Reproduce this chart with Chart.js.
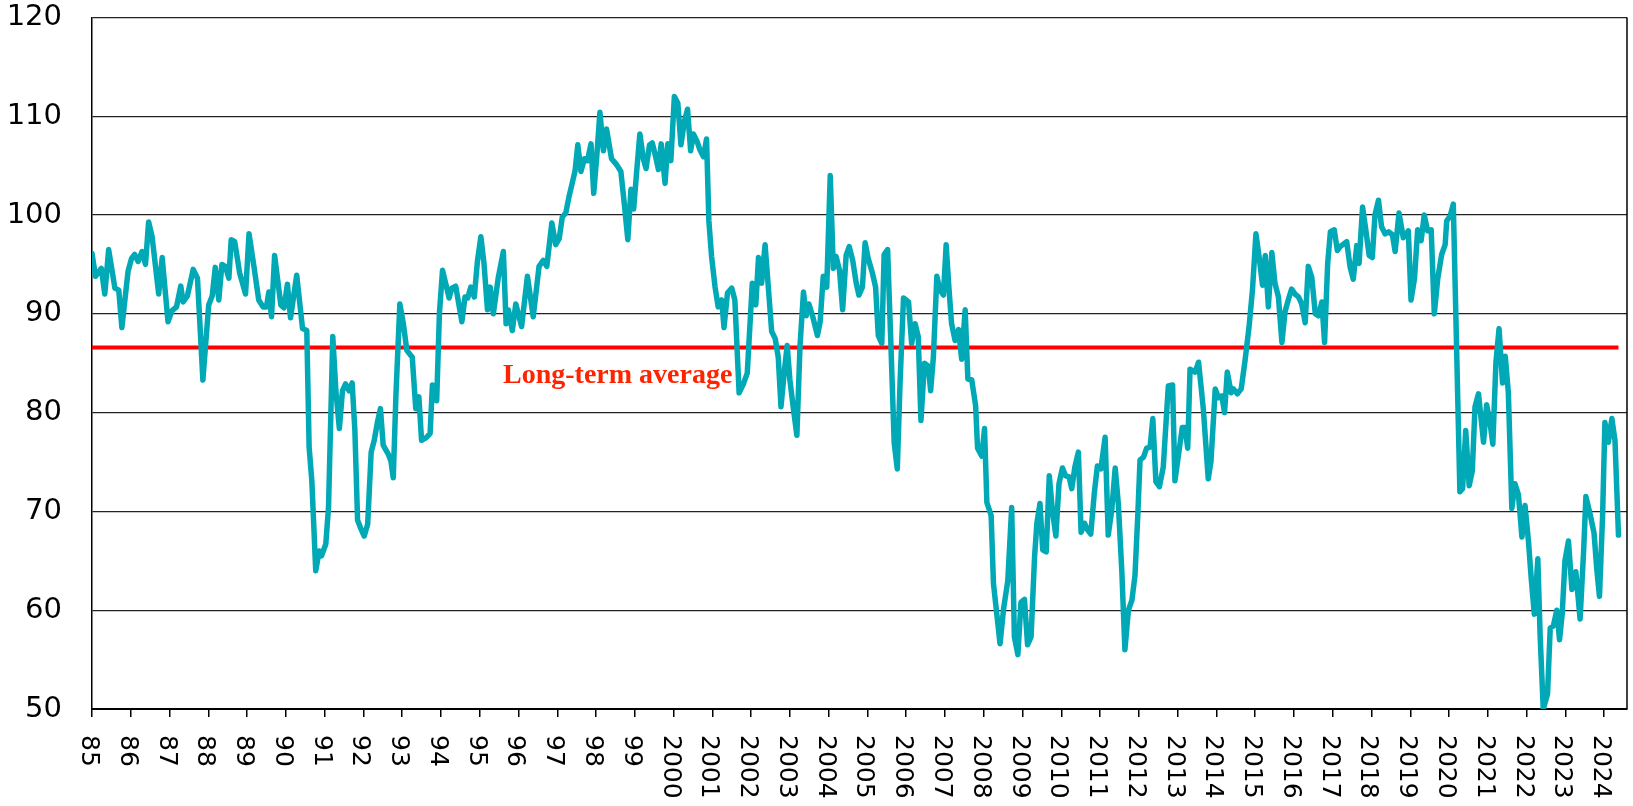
<!DOCTYPE html>
<html>
<head>
<meta charset="utf-8">
<title>Long-term average</title>
<script src="https://cdn.jsdelivr.net/npm/chart.js@4.4.1/dist/chart.umd.min.js"></script>
<style>
  html, body { margin: 0; padding: 0; background: #fff; }
  #wrap { width: 1633px; height: 806px; position: relative; }
</style>
</head>
<body>
<div id="wrap"><canvas id="chart"></canvas></div>
<script>
const dates = [
  1985.00, 1985.09, 1985.24, 1985.33, 1985.43, 1985.59, 1985.69, 1985.77, 1985.93,
  1986.02, 1986.10, 1986.19, 1986.29, 1986.38, 1986.46, 1986.55, 1986.72, 1986.81, 1986.96,
  1987.06, 1987.18, 1987.29, 1987.35, 1987.46, 1987.61, 1987.72, 1987.86,
  1988.01, 1988.10, 1988.18, 1988.27, 1988.35, 1988.44, 1988.53, 1988.59, 1988.68, 1988.81, 1988.96,
  1989.05, 1989.18, 1989.30, 1989.41, 1989.50, 1989.56, 1989.63, 1989.71, 1989.87, 1989.95,
  1990.04, 1990.12, 1990.28, 1990.43, 1990.54, 1990.60, 1990.67, 1990.77, 1990.86, 1990.92,
  1991.03, 1991.10, 1991.21, 1991.29, 1991.38, 1991.46, 1991.54, 1991.63, 1991.71, 1991.78, 1991.85, 1991.94,
  1992.02, 1992.11, 1992.20, 1992.28, 1992.37, 1992.44, 1992.51, 1992.64, 1992.71, 1992.77, 1992.84, 1992.94,
  1993.03, 1993.12, 1993.26, 1993.35, 1993.43, 1993.50, 1993.63, 1993.72, 1993.78, 1993.89, 1993.96,
  1994.04, 1994.12, 1994.21, 1994.28, 1994.38, 1994.54, 1994.62, 1994.69, 1994.77, 1994.86, 1994.94,
  1995.03, 1995.11, 1995.20, 1995.27, 1995.35, 1995.48, 1995.61, 1995.68, 1995.74, 1995.84, 1995.93,
  1996.08, 1996.23, 1996.38, 1996.53, 1996.64, 1996.73, 1996.86, 1996.96,
  1997.05, 1997.13, 1997.22, 1997.30, 1997.39, 1997.46, 1997.53, 1997.61, 1997.70, 1997.78, 1997.87, 1997.94,
  1998.02, 1998.10, 1998.19, 1998.27, 1998.40, 1998.53, 1998.64, 1998.73, 1998.82, 1998.90, 1998.97,
  1999.05, 1999.13, 1999.22, 1999.29, 1999.38, 1999.45, 1999.52, 1999.61, 1999.68, 1999.78, 1999.85, 1999.93,
  2000.02, 2000.11, 2000.19, 2000.28, 2000.36, 2000.44, 2000.51, 2000.60, 2000.68, 2000.77, 2000.85, 2000.91, 2000.98,
  2001.07, 2001.15, 2001.24, 2001.30, 2001.39, 2001.50, 2001.58, 2001.69, 2001.80, 2001.90,
  2002.03, 2002.12, 2002.19, 2002.27, 2002.36, 2002.53, 2002.62, 2002.70, 2002.77, 2002.86, 2002.93,
  2003.00, 2003.09, 2003.18, 2003.26, 2003.35, 2003.42, 2003.49, 2003.59, 2003.71, 2003.78, 2003.86, 2003.95,
  2004.04, 2004.12, 2004.19, 2004.28, 2004.36, 2004.45, 2004.53, 2004.62, 2004.71, 2004.78, 2004.87, 2004.94,
  2005.02, 2005.13, 2005.21, 2005.28, 2005.37, 2005.43, 2005.52, 2005.61, 2005.69, 2005.77, 2005.84, 2005.93,
  2006.06, 2006.14, 2006.23, 2006.31, 2006.38, 2006.47, 2006.57, 2006.63, 2006.70, 2006.79, 2006.87, 2006.96,
  2007.03, 2007.10, 2007.17, 2007.26, 2007.35, 2007.43, 2007.52, 2007.59, 2007.69, 2007.79, 2007.84, 2007.95,
  2008.02, 2008.08, 2008.19, 2008.25, 2008.42, 2008.51, 2008.62, 2008.72, 2008.79, 2008.88, 2008.96,
  2009.05, 2009.13, 2009.22, 2009.31, 2009.37, 2009.45, 2009.52, 2009.61, 2009.69, 2009.77, 2009.86, 2009.94,
  2010.03, 2010.11, 2010.20, 2010.27, 2010.35, 2010.44, 2010.51, 2010.60, 2010.68, 2010.76, 2010.85, 2010.93,
  2011.02, 2011.13, 2011.21, 2011.30, 2011.39, 2011.47, 2011.56, 2011.64, 2011.73, 2011.82, 2011.90, 2011.97,
  2012.03, 2012.12, 2012.20, 2012.29, 2012.36, 2012.44, 2012.53, 2012.63, 2012.76, 2012.87, 2012.93,
  2013.12, 2013.19, 2013.26, 2013.32, 2013.45, 2013.54, 2013.66, 2013.79, 2013.86, 2013.97,
  2014.05, 2014.14, 2014.21, 2014.28, 2014.38, 2014.44, 2014.54, 2014.64, 2014.74, 2014.84, 2014.93,
  2015.02, 2015.10, 2015.19, 2015.26, 2015.34, 2015.43, 2015.51, 2015.60, 2015.69, 2015.77, 2015.86, 2015.94,
  2016.03, 2016.12, 2016.20, 2016.29, 2016.37, 2016.46, 2016.55, 2016.63, 2016.72, 2016.79, 2016.87, 2016.94,
  2017.04, 2017.12, 2017.19, 2017.36, 2017.45, 2017.53, 2017.62, 2017.68, 2017.77, 2017.85, 2017.94,
  2018.02, 2018.09, 2018.18, 2018.26, 2018.35, 2018.44, 2018.54, 2018.61, 2018.71, 2018.82, 2018.95,
  2019.02, 2019.11, 2019.19, 2019.28, 2019.36, 2019.45, 2019.54, 2019.62, 2019.71, 2019.81, 2019.90, 2019.94,
  2020.03, 2020.11, 2020.28, 2020.35, 2020.43, 2020.52, 2020.60, 2020.67, 2020.76, 2020.89, 2020.97,
  2021.06, 2021.13, 2021.21, 2021.29, 2021.38, 2021.45, 2021.53, 2021.62, 2021.70, 2021.79, 2021.88, 2021.96,
  2022.05, 2022.12, 2022.20, 2022.29, 2022.35, 2022.43, 2022.54, 2022.61, 2022.69, 2022.78, 2022.85, 2022.92, 2022.99,
  2023.08, 2023.17, 2023.27, 2023.38, 2023.47, 2023.53, 2023.64, 2023.74, 2023.81, 2023.88, 2023.96,
  2024.02, 2024.11, 2024.20, 2024.28, 2024.37
];

const values = [
  96.1, 93.8, 94.6, 92.0, 96.5, 92.6, 92.4, 88.6, 94.3,
  95.6, 96.0, 95.3, 96.3, 95.0, 99.3, 97.8, 92.0, 95.7, 89.2,
  90.3, 90.7, 92.8, 91.2, 91.8, 94.5, 93.6, 83.3,
  90.9, 91.8, 94.7, 91.4, 95.0, 94.8, 93.6, 97.5, 97.3, 94.1, 92.0,
  98.1, 94.7, 91.4, 90.7, 90.7, 92.2, 89.7, 95.9, 90.9, 90.6,
  93.0, 89.6, 93.9, 88.5, 88.3, 76.5, 73.1, 64.0, 66.0, 65.5,
  66.7, 70.4, 87.7, 82.2, 78.4, 82.2, 82.9, 82.2, 83.0, 78.2, 69.1, 68.2,
  67.5, 68.7, 76.0, 77.2, 79.2, 80.4, 76.7, 75.8, 75.1, 73.4, 81.9, 91.0,
  89.0, 86.3, 85.6, 80.4, 81.6, 77.2, 77.5, 77.9, 82.8, 81.2, 90.0,
  94.4, 93.1, 91.6, 92.6, 92.8, 89.2, 91.7, 91.6, 92.7, 91.7, 95.3,
  97.8, 95.1, 90.4, 92.7, 90.0, 93.7, 96.3, 89.0, 90.4, 88.3, 91.0,
  88.7, 93.8, 89.7, 94.8, 95.4, 94.8, 99.2, 97.0,
  97.6, 99.8, 100.2, 101.8, 103.3, 104.5, 107.1, 104.4, 105.7, 105.5, 107.2, 102.2,
  106.0, 110.4, 106.5, 108.7, 105.7, 105.1, 104.4, 101.1, 97.5, 102.6, 100.6,
  104.5, 108.2, 105.7, 104.7, 107.1, 107.3, 106.2, 104.6, 107.2, 103.2, 107.2, 105.5,
  112.0, 111.3, 107.1, 109.5, 110.7, 106.5, 108.2, 107.5, 106.6, 105.9, 107.7, 99.4, 95.8,
  92.7, 90.7, 91.4, 88.6, 92.1, 92.6, 91.4, 82.0, 82.9, 84.0,
  93.1, 90.9, 95.7, 93.1, 97.0, 88.2, 87.5, 85.6, 80.6, 84.3, 86.8,
  83.3, 80.4, 77.7, 86.7, 92.2, 89.8, 91.0, 89.7, 87.8, 89.2, 93.8, 92.7,
  104.0, 94.6, 95.8, 94.4, 90.4, 95.9, 96.8, 95.4, 93.1, 91.9, 92.7, 97.2,
  95.6, 94.1, 92.7, 87.8, 87.0, 96.0, 96.5, 86.3, 76.9, 74.3, 82.9, 91.6,
  91.2, 87.0, 89.0, 87.7, 79.2, 85.0, 84.7, 82.2, 85.6, 93.8, 92.4, 91.9,
  97.0, 92.7, 89.0, 87.3, 88.4, 85.4, 90.4, 83.4, 83.3, 80.7, 76.4, 75.6,
  78.4, 70.9, 69.6, 62.7, 56.6, 60.1, 63.0, 70.4, 57.3, 55.5, 60.8,
  61.1, 56.5, 57.3, 65.4, 68.8, 70.8, 66.1, 65.9, 73.6, 70.1, 67.5, 72.8,
  74.4, 73.6, 73.5, 72.3, 74.5, 76.0, 67.9, 68.8, 68.1, 67.7, 71.8, 74.6,
  74.3, 77.5, 67.6, 70.1, 74.4, 70.8, 64.0, 56.0, 60.0, 61.0, 63.5, 69.4,
  75.2, 75.5, 76.4, 76.5, 79.4, 73.0, 72.5, 74.5, 82.7, 82.8, 73.1,
  78.5, 78.5, 76.4, 84.4, 84.1, 85.1, 80.5, 73.3, 75.1, 82.4,
  81.5, 81.7, 80.0, 84.1, 82.0, 82.4, 81.9, 82.4, 85.3, 88.6, 92.4,
  98.1, 95.8, 92.9, 95.9, 90.7, 96.2, 93.1, 91.7, 87.1, 90.2, 91.5, 92.5,
  92.0, 91.7, 91.0, 89.1, 94.8, 93.7, 90.0, 89.8, 91.2, 87.1, 95.1, 98.3,
  98.5, 96.4, 96.8, 97.3, 94.7, 93.5, 96.9, 95.1, 100.8, 98.6, 95.9,
  95.7, 100.0, 101.5, 98.8, 98.1, 98.3, 98.0, 96.3, 100.2, 97.7, 98.4,
  91.4, 93.6, 98.5, 97.4, 100.0, 98.4, 98.5, 90.0, 93.6, 96.0, 97.0, 99.4,
  99.9, 101.1, 72.0, 72.3, 78.2, 72.6, 74.1, 80.6, 81.9, 77.0, 80.8,
  78.9, 76.8, 85.1, 88.5, 83.0, 85.7, 82.0, 70.3, 72.8, 71.7, 67.4, 70.6,
  66.9, 63.2, 59.6, 65.2, 57.4, 50.0, 51.5, 58.2, 58.4, 60.0, 57.0, 59.7, 65.0,
  67.0, 62.1, 63.9, 59.1, 65.9, 71.5, 69.7, 67.8, 64.2, 61.4, 69.5,
  79.0, 77.0, 79.4, 77.2, 67.6
];

const firstYear = 1985;
const yearLabels = [
  '85', '86', '87', '88', '89', '90', '91', '92', '93', '94', '95', '96', '97', '98', '99',
  '2000', '2001', '2002', '2003', '2004', '2005', '2006', '2007', '2008', '2009', '2010', '2011', '2012',
  '2013', '2014', '2015', '2016', '2017', '2018', '2019', '2020', '2021', '2022', '2023', '2024'
];
const longTermAverage = 86.6;
const averageLabel = 'Long-term average';
const averageLabelYear = 1995.6;

// rotated year labels, the frame's right edge and the red caption
const decorations = {
  id: 'decorations',
  afterDraw(chart) {
    const { ctx, chartArea: a, scales: { x, y } } = chart;
    ctx.save();
    ctx.strokeStyle = '#000';
    ctx.lineWidth = 1.5;
    ctx.beginPath();
    ctx.moveTo(a.right, a.top);
    ctx.lineTo(a.right, a.bottom);
    ctx.stroke();

    ctx.fillStyle = '#000';
    ctx.font = '25px "DejaVu Sans", sans-serif';
    ctx.textAlign = 'left';
    ctx.textBaseline = 'middle';
    yearLabels.forEach((label, i) => {
      const px = x.getPixelForValue(firstYear + i) - 3.5;
      ctx.save();
      ctx.translate(px, a.bottom + 26);
      ctx.rotate(Math.PI / 2);
      ctx.fillText(label, 0, 0);
      ctx.restore();
    });

    ctx.fillStyle = '#FF2400';
    ctx.font = 'bold 28px "Liberation Serif", serif';
    ctx.textBaseline = 'alphabetic';
    ctx.fillText(averageLabel, x.getPixelForValue(averageLabelYear), y.getPixelForValue(longTermAverage) + 36);
    ctx.restore();
  }
};

new Chart(document.getElementById('chart'), {
  type: 'line',
  data: {
    datasets: [
      {
        data: dates.map((d, i) => ({ x: d, y: values[i] })),
        borderColor: '#00A9B5',
        borderWidth: 5.5,
        pointRadius: 0,
        tension: 0,
        borderJoinStyle: 'round',
        borderCapStyle: 'round'
      },
      {
        data: [{ x: dates[0], y: longTermAverage }, { x: dates[dates.length - 1], y: longTermAverage }],
        borderColor: '#FF0000',
        borderWidth: 4,
        pointRadius: 0
      }
    ]
  },
  options: {
    responsive: true,
    maintainAspectRatio: false,
    animation: false,
    layout: { padding: { top: 17, right: 6, bottom: 0, left: 0 } },
    plugins: { legend: { display: false }, tooltip: { enabled: false } },
    scales: {
      x: {
        type: 'linear',
        min: 1985,
        max: 2024.59,
        afterFit(s) { s.height = 97; },
        ticks: { display: false, stepSize: 1, includeBounds: false },
        grid: { drawOnChartArea: false, drawTicks: true, tickLength: 8, color: '#000', lineWidth: 1.5 },
        border: { color: '#000', width: 2 }
      },
      y: {
        min: 50,
        max: 120,
        afterFit(s) { s.width = 92; },
        ticks: { stepSize: 10, padding: 0, color: '#000', font: { family: '"DejaVu Sans", sans-serif', size: 29 } },
        grid: { color: '#222', lineWidth: 1.2, drawTicks: true, tickLength: 30, tickColor: 'rgba(0,0,0,0)' },
        border: { color: '#000', width: 1.5 }
      }
    }
  },
  plugins: [decorations]
});
</script>
</body>
</html>
